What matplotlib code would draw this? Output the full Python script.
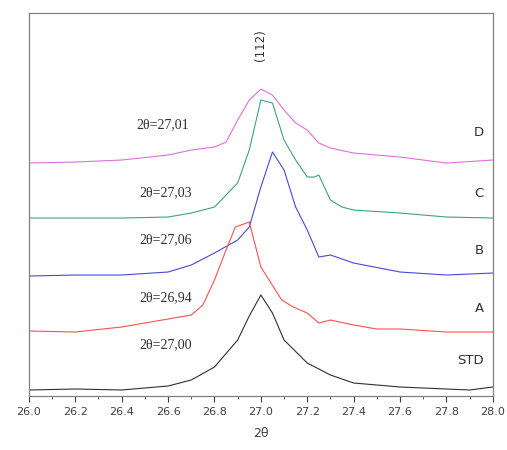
import numpy as np
import matplotlib.pyplot as plt

# intensities in arbitrary units (offset stacked)
tt_std = [26.0, 26.2, 26.4, 26.6, 26.7, 26.8, 26.9, 26.95, 27.0, 27.05, 27.1, 27.2, 27.3, 27.4, 27.6, 27.9, 28.0]
i_std = [6, 7, 6, 10, 16, 29, 56, 80, 101, 83, 56, 33, 21, 13, 9, 6, 9]

tt_a = [26.0, 26.2, 26.4, 26.5, 26.6, 26.7, 26.75, 26.8, 26.85, 26.89, 26.95, 27.0, 27.09, 27.14, 27.2, 27.25, 27.3, 27.4, 27.5, 27.6, 27.8, 28.0]
i_a = [65, 64, 69, 73, 77, 81, 91, 116, 146, 169, 174, 129, 96, 89, 83, 73, 76, 71, 67, 67, 64, 64]

tt_b = [26.0, 26.2, 26.4, 26.6, 26.7, 26.8, 26.9, 26.95, 27.0, 27.05, 27.1, 27.15, 27.2, 27.25, 27.3, 27.4, 27.6, 27.8, 28.0]
i_b = [120, 121, 121, 124, 131, 143, 156, 169, 209, 244, 226, 189, 166, 139, 141, 133, 124, 121, 123]

tt_c = [26.0, 26.4, 26.6, 26.7, 26.8, 26.9, 26.95, 27.0, 27.05, 27.1, 27.15, 27.2, 27.23, 27.25, 27.3, 27.35, 27.4, 27.6, 27.8, 28.0]
i_c = [178, 178, 179, 183, 189, 213, 246, 296, 293, 256, 236, 219, 219, 221, 196, 189, 186, 183, 179, 178]

tt_d = [26.0, 26.2, 26.4, 26.6, 26.7, 26.8, 26.85, 26.9, 26.95, 27.0, 27.05, 27.1, 27.15, 27.2, 27.25, 27.3, 27.4, 27.6, 27.8, 28.0]
i_d = [233, 234, 236, 241, 246, 249, 254, 276, 296, 307, 301, 286, 273, 266, 253, 248, 243, 239, 233, 236]

names = ["D", "C", "B", "A", "STD"]
peak_labels = ["2θ=27,01", "2θ=27,03", "2θ=27,06", "2θ=26,94", "2θ=27,00"]

fig = plt.figure(figsize=(5.07, 4.5), dpi=100)
ax = fig.add_axes([0.057, 0.12, 0.915, 0.851])

ax.plot(tt_d, i_d, color="#e070e0", lw=0.8)
ax.plot(tt_c, i_c, color="#40a080", lw=0.8)
ax.plot(tt_b, i_b, color="#4848d8", lw=0.8)
ax.plot(tt_a, i_a, color="#ff5050", lw=0.8)
ax.plot(tt_std, i_std, color="#303030", lw=0.8)

ax.set_xlim(26.0, 28.0)
ax.set_ylim(0, 383)
ax.set_xticks(np.arange(26.0, 28.01, 0.2))
ax.set_xticks(np.arange(26.1, 28.0, 0.2), minor=True)
ax.set_xticklabels([f"{v:.1f}" for v in np.arange(26.0, 28.01, 0.2)], fontsize=8, color="#404040")
ax.tick_params(axis="x", direction="out", length=4, width=0.8, color="#404040", pad=4)
ax.tick_params(axis="x", which="minor", direction="out", length=2, width=0.6, color="#404040")
ax.set_yticks([])
for s in ax.spines.values():
    s.set_color("#808080")
    s.set_linewidth(0.9)

ax.set_xlabel("2θ", fontsize=9, color="#404040", labelpad=7)

# peak position labels
lab_x = [26.578, 26.59, 26.59, 26.59, 26.59]
lab_y = [271, 203, 156, 98, 51]
for x, y, t in zip(lab_x, lab_y, peak_labels):
    ax.text(x, y, t, fontsize=10, family="Liberation Serif", color="#303030", ha="center", va="center")

side_y = [264, 203, 146, 88, 36]
for y, t in zip(side_y, names):
    ax.text(27.96, y, t, fontsize=9.5, color="#303030", ha="right", va="center")

ax.text(27.0, 351, "(112)", fontsize=8.5, rotation=90, color="#303030", ha="center", va="center")

fig.savefig("out.png", dpi=100)
